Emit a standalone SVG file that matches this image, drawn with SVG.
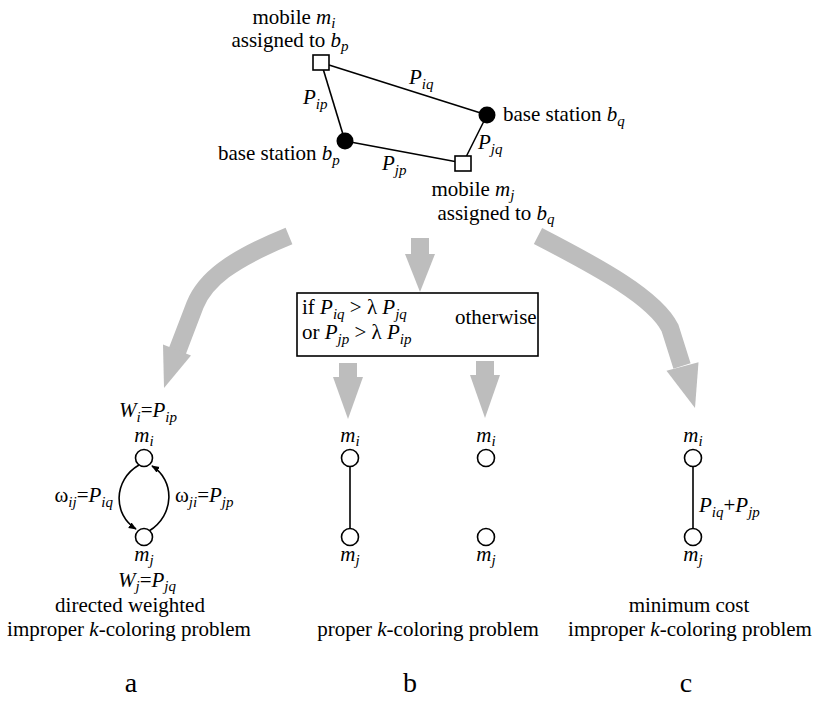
<svg xmlns="http://www.w3.org/2000/svg" width="820" height="702" viewBox="0 0 820 702" font-family="'Liberation Serif', 'Times New Roman', 'DejaVu Serif', serif">
<defs>
<style>
text{font-family:'Liberation Serif','Times New Roman','DejaVu Serif',serif;font-size:21px;fill:#000}
.i{font-style:italic}
.s{font-style:italic;font-size:15px}
.big{font-size:28px}
.ln{stroke:#000;stroke-width:1.6;fill:none}
.nd{fill:#fff;stroke:#000;stroke-width:1.6}
.bs{fill:#000}
.gs{stroke:#bdbdbd;stroke-width:18;fill:none}
.gh{fill:#bdbdbd}
.m{text-anchor:middle}
</style>
<marker id="ah" viewBox="0 0 10 10" refX="9" refY="5" markerWidth="8" markerHeight="8" markerUnits="userSpaceOnUse" orient="auto">
<path d="M0,1 L10,5 L0,9 z" fill="#000"/>
</marker>
</defs>
<g id="connectors">
<line class="ln" x1="329" y1="65" x2="487" y2="115"/>
<line class="ln" x1="321" y1="62" x2="345" y2="141"/>
<line class="ln" x1="345" y1="141" x2="463" y2="163"/>
<line class="ln" x1="463" y1="163" x2="487" y2="115"/>
<path class="ln" d="M139 465 C113 480 113 515 136 529" marker-end="url(#ah)"/>
<path class="ln" d="M149 531 C175 515 175 480 152 466" marker-end="url(#ah)"/>
<line class="ln" x1="350" y1="467" x2="350" y2="528"/>
<line class="ln" x1="693" y1="467" x2="693" y2="528"/>
</g>
<g id="arrows">
<path class="gs" d="M289 236 C230 260 205 280 195 305 L177 352"/>
<polygon class="gh" points="163,344.6 191,355.4 164,388"/>
<rect class="gh" x="411" y="238" width="18" height="18"/>
<polygon class="gh" points="405,254 435,254 420,292"/>
<rect class="gh" x="339" y="363" width="18" height="16"/>
<polygon class="gh" points="333,377 363,377 348,419"/>
<rect class="gh" x="476" y="361" width="18" height="16"/>
<polygon class="gh" points="470,375 500,375 485,418"/>
<path class="gs" d="M538 236 C600 268 655 298 670 328 L682 366"/>
<polygon class="gh" points="666.5,370.8 698.5,362.3 695,408"/>
</g>
<g id="mobile-i">
<rect class="nd" x="313" y="55" width="16" height="15"/>
<text class="m" x="294" y="24">mobile <tspan class="i">m</tspan><tspan class="s" dy="4">i</tspan></text>
<text class="m" x="290" y="47">assigned to <tspan class="i">b</tspan><tspan class="s" dy="4">p</tspan></text>
</g>
<g id="base-q">
<circle class="bs" cx="487" cy="115" r="8.5"/>
<text x="503" y="121">base station <tspan class="i">b</tspan><tspan class="s" dy="5">q</tspan></text>
</g>
<g id="base-p">
<circle class="bs" cx="345" cy="141" r="8.5"/>
<text x="218" y="160">base station <tspan class="i">b</tspan><tspan class="s" dy="5">p</tspan></text>
</g>
<g id="mobile-j">
<rect class="nd" x="455" y="156" width="16" height="15"/>
<text class="m" x="473" y="196">mobile <tspan class="i">m</tspan><tspan class="s" dy="4">j</tspan></text>
<text class="m" x="496" y="220">assigned to <tspan class="i">b</tspan><tspan class="s" dy="4">q</tspan></text>
</g>
<g id="edge-labels">
<text x="409" y="84"><tspan class="i">P</tspan><tspan class="s" dy="5">iq</tspan></text>
<text x="303" y="104"><tspan class="i">P</tspan><tspan class="s" dy="5">ip</tspan></text>
<text x="382" y="170"><tspan class="i">P</tspan><tspan class="s" dy="5">jp</tspan></text>
<text x="478" y="149"><tspan class="i">P</tspan><tspan class="s" dy="5">jq</tspan></text>
</g>
<g id="condition-box">
<rect x="297" y="293" width="241" height="63" fill="#fff" stroke="#000" stroke-width="1.6"/>
<text x="302" y="314">if <tspan class="i">P</tspan><tspan class="s" dy="5">iq</tspan><tspan dy="-5"> &gt; λ </tspan><tspan class="i">P</tspan><tspan class="s" dy="5">jq</tspan></text>
<text x="302" y="339">or <tspan class="i">P</tspan><tspan class="s" dy="5">jp</tspan><tspan dy="-5"> &gt; λ </tspan><tspan class="i">P</tspan><tspan class="s" dy="5">ip</tspan></text>
<text x="455" y="324">otherwise</text>
</g>
<g id="graph-a">
<text class="m" x="148" y="417"><tspan class="i">W</tspan><tspan class="s" dy="5">i</tspan><tspan dy="-5">=</tspan><tspan class="i">P</tspan><tspan class="s" dy="5">ip</tspan></text>
<text class="m" x="144" y="442"><tspan class="i">m</tspan><tspan class="s" dy="4">i</tspan></text>
<circle class="nd" cx="144" cy="458" r="8.5"/>
<circle class="nd" cx="144" cy="537" r="8.5"/>
<text x="113" y="502" text-anchor="end">ω<tspan class="s" dy="5">ij</tspan><tspan dy="-5">=</tspan><tspan class="i">P</tspan><tspan class="s" dy="5">iq</tspan></text>
<text x="175" y="502">ω<tspan class="s" dy="5">ji</tspan><tspan dy="-5">=</tspan><tspan class="i">P</tspan><tspan class="s" dy="5">jp</tspan></text>
<text class="m" x="144" y="561"><tspan class="i">m</tspan><tspan class="s" dy="4">j</tspan></text>
<text class="m" x="147" y="587"><tspan class="i">W</tspan><tspan class="s" dy="4">j</tspan><tspan dy="-4">=</tspan><tspan class="i">P</tspan><tspan class="s" dy="4">jq</tspan></text>
<text class="m" x="130" y="612">directed weighted</text>
<text class="m" x="129" y="636">improper <tspan class="i">k</tspan>-coloring problem</text>
<text class="m big" x="131" y="692">a</text>
</g>
<g id="graph-b">
<text class="m" x="350" y="442"><tspan class="i">m</tspan><tspan class="s" dy="4">i</tspan></text>
<circle class="nd" cx="350" cy="458" r="8.5"/>
<circle class="nd" cx="350" cy="537" r="8.5"/>
<text class="m" x="350" y="561"><tspan class="i">m</tspan><tspan class="s" dy="4">j</tspan></text>
<text class="m" x="486" y="442"><tspan class="i">m</tspan><tspan class="s" dy="4">i</tspan></text>
<circle class="nd" cx="486" cy="458" r="8.5"/>
<circle class="nd" cx="486" cy="537" r="8.5"/>
<text class="m" x="486" y="561"><tspan class="i">m</tspan><tspan class="s" dy="4">j</tspan></text>
<text class="m" x="428" y="636">proper <tspan class="i">k</tspan>-coloring problem</text>
<text class="m big" x="410" y="692">b</text>
</g>
<g id="graph-c">
<text class="m" x="693" y="442"><tspan class="i">m</tspan><tspan class="s" dy="4">i</tspan></text>
<circle class="nd" cx="693" cy="458" r="8.5"/>
<circle class="nd" cx="693" cy="537" r="8.5"/>
<text class="m" x="693" y="561"><tspan class="i">m</tspan><tspan class="s" dy="4">j</tspan></text>
<text x="699" y="512"><tspan class="i">P</tspan><tspan class="s" dy="5">iq</tspan><tspan dy="-5">+</tspan><tspan class="i">P</tspan><tspan class="s" dy="5">jp</tspan></text>
<text class="m" x="689" y="612">minimum cost</text>
<text class="m" x="690" y="636">improper <tspan class="i">k</tspan>-coloring problem</text>
<text class="m big" x="686" y="692">c</text>
</g>
</svg>
